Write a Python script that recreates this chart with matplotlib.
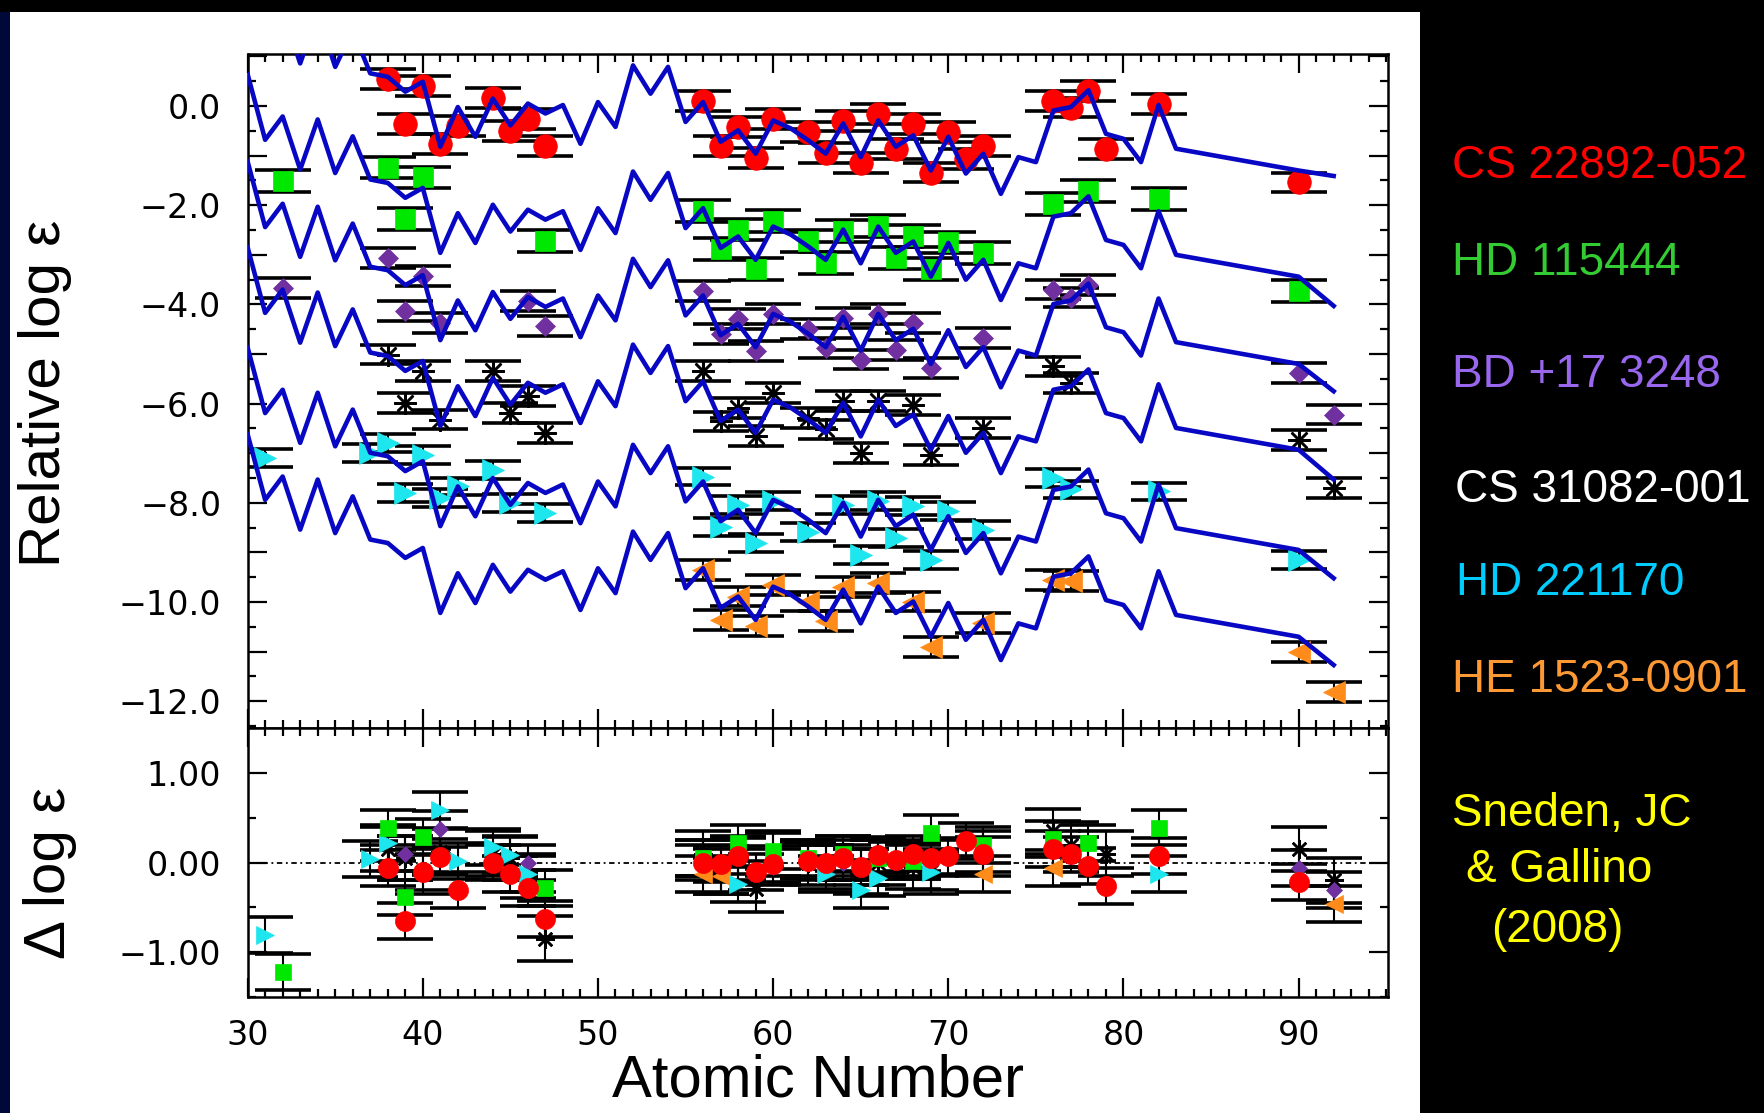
import matplotlib.pyplot as plt
from matplotlib.patches import Rectangle
from matplotlib.ticker import MultipleLocator, FuncFormatter

plt.rcParams['font.family'] = ['Liberation Sans', 'DejaVu Sans']

# scaled solar r-process pattern (CS 22892-052 scale), Z = 30..83 and Th
pattern_z = list(range(30, 84)) + [90]
pattern = [2.78, 1.46, 1.93, 0.86, 1.87, 0.79, 1.53, 0.66, 0.59, 0.29,
           0.49, -0.82, -0.02, -0.62, 0.15, -0.39, 0.05, -0.15, 0.02, -0.76,
           0.08, -0.42, 0.82, 0.25, 0.79, -0.32, 0.08, -0.72, -0.49, -0.96,
           -0.29, -0.45, -0.69, -0.96, -0.35, -1.03, -0.29, -0.82, -0.59, -1.30,
           -0.62, -1.36, -0.96, -1.77, -1.03, -1.13, -0.09, -0.02, 0.32, -0.56,
           -0.66, -1.13, 0.02, -0.86, -1.30]
line_offset = [0.0, -2.14, -3.90, -5.63, -7.65, -9.40]
line_u = [-1.41, -4.03, -5.75, -7.53, -9.52, -11.27]

stars = ['CS 22892-052', 'HD 115444', 'BD +17 3248', 'CS 31082-001', 'HD 221170', 'HE 1523-0901']

# observed abundances (upper panel)
red_z = [38, 39, 40, 41, 42, 44, 45, 46, 47, 56, 57, 58, 59, 60, 62, 63, 64, 65, 66, 67,
         68, 69, 70, 71, 72, 76, 77, 78, 79, 82, 90]
red_v = [0.54, -0.37, 0.41, -0.77, -0.40, 0.17, -0.50, -0.26, -0.80, 0.10, -0.80, -0.43,
         -1.04, -0.26, -0.53, -0.94, -0.30, -1.14, -0.16, -0.87, -0.37, -1.34, -0.53, -1.07,
         -0.80, 0.10, -0.03, 0.31, -0.87, 0.04, -1.54]
green_z = [32, 38, 39, 40, 47, 56, 57, 58, 59, 60, 62, 63, 64, 66, 67, 68, 69, 70, 72, 76, 78, 82, 90]
green_v = [-1.51, -1.24, -2.28, -1.44, -2.72, -2.12, -2.89, -2.49, -3.29, -2.32, -2.72, -3.16,
           -2.52, -2.42, -3.06, -2.62, -3.29, -2.75, -2.96, -1.98, -1.71, -1.88, -3.73]
purple_z = [32, 38, 39, 40, 41, 46, 47, 56, 57, 58, 59, 60, 62, 63, 64, 65, 66, 67, 68, 69,
            72, 76, 77, 78, 90, 92]
purple_v = [-3.66, -3.06, -4.13, -3.43, -4.37, -3.93, -4.44, -3.73, -4.60, -4.30, -4.94, -4.20,
            -4.50, -4.87, -4.27, -5.11, -4.20, -4.91, -4.37, -5.28, -4.67, -3.70, -3.86, -3.60,
            -5.38, -6.22]
black_z = [38, 39, 40, 41, 44, 45, 46, 47, 56, 57, 58, 59, 60, 62, 63, 64, 65, 66, 68, 69,
           72, 76, 77, 90, 92]
black_v = [-5.01, -5.98, -5.35, -6.32, -5.35, -6.19, -5.85, -6.59, -5.35, -6.36, -6.09, -6.66,
           -5.78, -6.29, -6.52, -5.95, -6.99, -5.95, -6.02, -7.03, -6.49, -5.25, -5.58, -6.73, -7.70]
cyan_z = [31, 37, 38, 39, 40, 41, 42, 44, 45, 47, 56, 57, 58, 59, 60, 62, 64, 65, 66, 67,
          68, 69, 70, 72, 76, 77, 82, 90]
cyan_v = [-7.09, -6.99, -6.79, -7.80, -7.03, -7.90, -7.67, -7.33, -8.00, -8.21, -7.47, -8.48,
          -8.04, -8.81, -7.97, -8.58, -8.04, -9.05, -7.97, -8.71, -8.07, -9.15, -8.17, -8.54,
          -7.50, -7.73, -7.77, -9.15]
orange_z = [56, 57, 58, 59, 60, 62, 63, 64, 66, 68, 69, 72, 76, 77, 90, 92]
orange_v = [-9.35, -10.36, -9.89, -10.49, -9.65, -9.99, -10.39, -9.69, -9.62, -9.99, -10.90,
            -10.43, -9.55, -9.58, -11.00, -11.81]
star_err = [0.2, 0.22, 0.2, 0.2, 0.18, 0.2]

# residuals (lower panel)
red_dz = [38, 39, 40, 41, 42, 44, 45, 46, 47, 56, 57, 58, 59, 60, 62, 63, 64, 65, 66, 67,
          68, 69, 70, 71, 72, 76, 77, 78, 79, 82, 90]
red_dv = [-0.06, -0.65, -0.11, 0.06, -0.31, 0.00, -0.13, -0.28, -0.63, 0.00, -0.02, 0.07,
          -0.11, -0.02, 0.02, 0.00, 0.05, -0.05, 0.08, 0.03, 0.10, 0.05, 0.07, 0.24, 0.09,
          0.15, 0.09, -0.04, -0.26, 0.07, -0.22]
green_dz = [32, 38, 39, 40, 47, 56, 58, 60, 62, 64, 66, 68, 69, 72, 76, 78, 82]
green_dv = [-1.22, 0.39, -0.39, 0.28, -0.28, 0.05, 0.22, 0.13, 0.05, 0.10, 0.05, 0.02, 0.33,
            0.20, 0.26, 0.22, 0.39]
purple_dz = [39, 41, 46, 56, 60, 64, 68, 90, 92]
purple_dv = [0.10, 0.37, 0.00, 0.05, -0.05, 0.00, 0.02, -0.06, -0.31]
black_dz = [38, 39, 40, 41, 44, 45, 46, 47, 56, 57, 58, 59, 60, 62, 63, 64, 65, 66, 68, 69,
            72, 76, 77, 79, 90, 92]
black_dv = [0.15, 0.05, -0.10, 0.12, 0.10, 0.05, -0.15, -0.85, 0.10, -0.10, 0.05, -0.30, 0.10,
            0.00, -0.05, 0.05, -0.10, 0.00, -0.05, -0.10, 0.10, 0.35, 0.20, 0.10, 0.15, -0.20]
cyan_dz = [31, 37, 38, 41, 42, 44, 45, 46, 58, 63, 65, 66, 69, 82]
cyan_dv = [-0.81, 0.04, 0.22, 0.59, 0.02, 0.17, 0.08, -0.13, -0.24, -0.13, -0.31, -0.17, -0.11, -0.13]
orange_dz = [56, 57, 72, 76, 92]
orange_dv = [-0.13, -0.15, -0.13, -0.06, -0.46]
resid_err = [0.2, 0.2, 0.2, 0.25, 0.2, 0.2]

upper = [(red_z, red_v), (green_z, green_v), (purple_z, purple_v),
         (black_z, black_v), (cyan_z, cyan_v), (orange_z, orange_v)]
lower = [(red_dz, red_dv), (green_dz, green_dv), (purple_dz, purple_dv),
         (black_dz, black_dv), (cyan_dz, cyan_dv), (orange_dz, orange_dv)]

# marker style per star
mk = [dict(marker='o', color='#ff0000', ms=17),
      dict(marker='s', color='#00e800', ms=14),
      dict(marker='D', color='#7030a0', ms=10),
      dict(marker=(8, 2, 0), color='black', ms=16, mew=1.8),
      dict(marker='>', color='#1ee6ee', ms=16),
      dict(marker='<', color='#ff8c1a', ms=16)]
draw_order = [3, 2, 5, 4, 1, 0]
text_colors = ['#ff0000', '#33cc33', '#9966ee', 'white', '#00ccff', '#ff9933']

W, H = 1765, 1113
fig = plt.figure(figsize=(W / 100, H / 100), dpi=100, facecolor='black')
fig.patches.append(Rectangle((10 / W, 0), 1410 / W, 1 - 12 / H, transform=fig.transFigure,
                             facecolor='white', edgecolor='none', zorder=-10))
fig.patches.append(Rectangle((0, 0), 10 / W, 1 - 12 / H, transform=fig.transFigure,
                             facecolor='#00083a', edgecolor='none', zorder=-10))

ax1 = fig.add_axes([0.1403, 0.3459, 0.6461, 0.6056])
ax2 = fig.add_axes([0.1403, 0.1042, 0.6461, 0.2417])

# upper panel
for k in range(6):
    ys = [p + line_offset[k] for p in pattern] + [line_u[k]]
    ax1.plot(pattern_z + [92], ys, color='#0808c4', lw=3.3, zorder=5)

for k in draw_order:
    z, v = upper[k]
    ax1.errorbar(z, v, yerr=star_err[k], fmt='none', ecolor='black', elinewidth=1.5,
                 capsize=20, capthick=2.6, zorder=2)
for k in draw_order:
    z, v = upper[k]
    st = mk[k]
    ax1.plot(z, v, ls='none', marker=st['marker'], ms=st['ms'], color=st['color'],
             mec=st['color'], mew=st.get('mew', 0.5), zorder=3)

ax1.set_xlim(30, 95.1)
ax1.set_ylim(-12.54, 1.05)

# lower panel
ax2.axhline(0, color='black', lw=1.3, ls=(0, (3, 2, 1, 2)), zorder=1)
for k in draw_order:
    z, v = lower[k]
    ax2.errorbar(z, v, yerr=resid_err[k], fmt='none', ecolor='black', elinewidth=1.5,
                 capsize=20, capthick=2.6, zorder=2)
for k in draw_order:
    z, v = lower[k]
    st = mk[k]
    ax2.plot(z, v, ls='none', marker=st['marker'], ms=st['ms'] * 0.85, color=st['color'],
             mec=st['color'], mew=st.get('mew', 0.5), zorder=3)

ax2.set_xlim(30, 95.1)
ax2.set_ylim(-1.5, 1.5)


def upper_fmt(v, pos):
    if round(v) % 2 != 0:
        return ''
    return f'{abs(v):.1f}' if abs(v) < 1e-9 else f'{v:.1f}'.replace('-', '\u2212')


def lower_fmt(v, pos):
    return f'{abs(v):.2f}' if abs(v) < 1e-9 else f'{v:.2f}'.replace('-', '\u2212')


for ax in (ax1, ax2):
    ax.set_facecolor('white')
    ax.xaxis.set_major_locator(MultipleLocator(10))
    ax.xaxis.set_minor_locator(MultipleLocator(1))
    ax.tick_params(which='both', direction='in', top=True, right=True, bottom=True,
                   left=True, width=1.6, colors='black', labelsize=24)
    ax.tick_params(which='major', length=14)
    ax.tick_params(which='minor', length=6)
    ax.tick_params(axis='y', pad=19)
    ax.tick_params(axis='x', pad=16)
    for sp in ax.spines.values():
        sp.set_linewidth(1.8)

ax1.yaxis.set_major_locator(MultipleLocator(1))
ax1.yaxis.set_minor_locator(MultipleLocator(0.5))
ax1.yaxis.set_major_formatter(FuncFormatter(upper_fmt))
ax1.tick_params(labelbottom=False)

ax2.yaxis.set_major_locator(MultipleLocator(1))
ax2.yaxis.set_minor_locator(MultipleLocator(0.5))
ax2.yaxis.set_major_formatter(FuncFormatter(lower_fmt))

# wider digits, as in the reference
for ax in (ax1, ax2):
    for lab in ax.get_xticklabels() + ax.get_yticklabels():
        lab.set_family(['DejaVu Sans'])

fig.text(818 / W, 1 - 1081 / H, 'Atomic Number', fontsize=43, ha='center', va='center',
         color='black')
fig.text(45 / W, 1 - 393 / H, 'Relative log \u03b5', fontsize=42, rotation=90,
         ha='center', va='center', color='black')
fig.text(50 / W, 1 - 873 / H, '\u0394 log \u03b5', fontsize=42, rotation=90,
         ha='center', va='center', color='black')

# star names on the right
name_y = [166, 263, 375, 490, 583, 680]
name_x = [1452, 1452, 1452, 1455, 1456, 1452]
for name, col, x, y in zip(stars, text_colors, name_x, name_y):
    fig.text(x / W, 1 - y / H, name, color=col, fontsize=33, ha='left', va='center')

for txt, x, y in [('Sneden, JC', 1452, 814), ('& Gallino', 1466, 870), ('(2008)', 1491, 930)]:
    fig.text(x / W, 1 - y / H, txt, color='#ffff00', fontsize=33, ha='left', va='center')

fig.savefig('out.png', dpi=100, facecolor=fig.get_facecolor())
